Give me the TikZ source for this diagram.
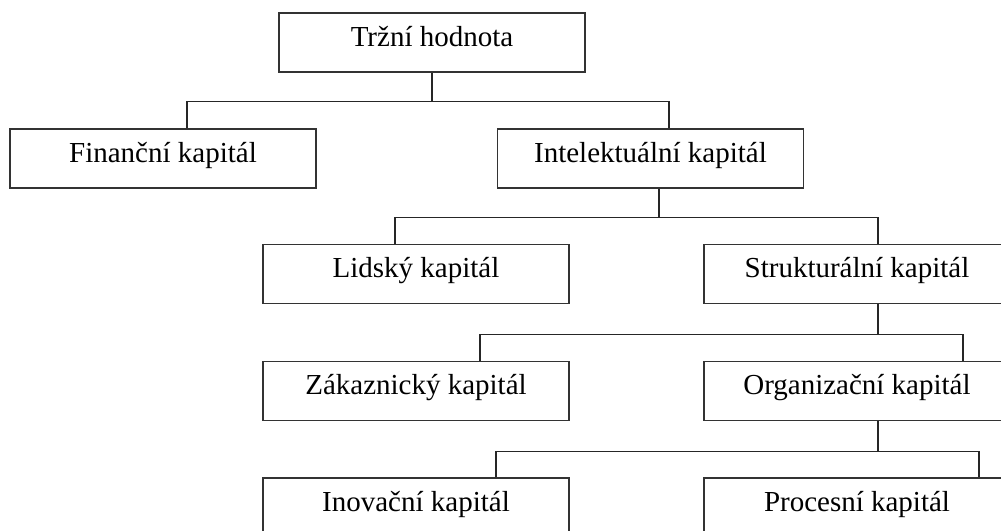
\documentclass[tikz,border=0pt]{standalone}
\usepackage{fontspec}
\setmainfont{Liberation Serif}
\usepackage{tikz}
\usetikzlibrary{positioning}

\begin{document}
\begin{tikzpicture}[boxStyle/.style={rectangle, draw=black!80, line width=0.6pt, minimum width=6.12cm, inner xsep=0pt, inner ysep=0pt, text height=0.66cm, text depth=0.52cm, font=\fontsize{16.5}{20}\selectfont}, lineStyle/.style={draw=black!85, line width=0.6pt}]
			\useasboundingbox (0,0) rectangle (20.02,-10.62);
			\clip (0,0) rectangle (20.02,-10.62);

			% Root
			\node[boxStyle] (trzni) at (8.64, -0.85) {Tržní hodnota};

			% Layer 1
			\node[boxStyle] (financni) at (3.26, -3.17) {Finanční kapitál};
			\node[boxStyle] (intelekt) at (13.01, -3.17) {Intelektuální kapitál};

			% Layer 2
			\node[boxStyle] (lidsky) at (8.32, -5.48) {Lidský kapitál};
			\node[boxStyle] (struktur) at (17.14, -5.48) {Strukturální kapitál};

			% Layer 3
			\node[boxStyle] (zakaz) at (8.32, -7.82) {Zákaznický kapitál};
			\node[boxStyle] (organ) at (17.14, -7.82) {Organizační kapitál};

			% Layer 4
			\node[boxStyle] (inovac) at (8.32, -10.15) {Inovační kapitál};
			\node[boxStyle] (proces) at (17.14, -10.15) {Procesní kapitál};

			\draw[lineStyle] (trzni.south) -- ++(0,-0.58) coordinate (bus1);
			\draw[lineStyle] ([xshift=0.48cm]financni.north) |- (bus1) -| ([xshift=0.37cm]intelekt.north);

			\draw[lineStyle] ([xshift=0.17cm]intelekt.south) -- ++(0,-0.58) coordinate (bus2);
			\draw[lineStyle] ([xshift=-0.42cm]lidsky.north) |- (bus2) -| ([xshift=0.42cm]struktur.north);

			\draw[lineStyle] ([xshift=0.42cm]struktur.south) -- ++(0,-0.6) coordinate (bus3);
			\draw[lineStyle] ([xshift=1.28cm]zakaz.north) |- (bus3) -| ([xshift=2.12cm]organ.north);

			\draw[lineStyle] ([xshift=0.42cm]organ.south) -- ++(0,-0.61) coordinate (bus4);
			\draw[lineStyle] ([xshift=1.6cm]inovac.north) |- (bus4) -| ([xshift=2.44cm]proces.north);

		\end{tikzpicture}
\end{document}
